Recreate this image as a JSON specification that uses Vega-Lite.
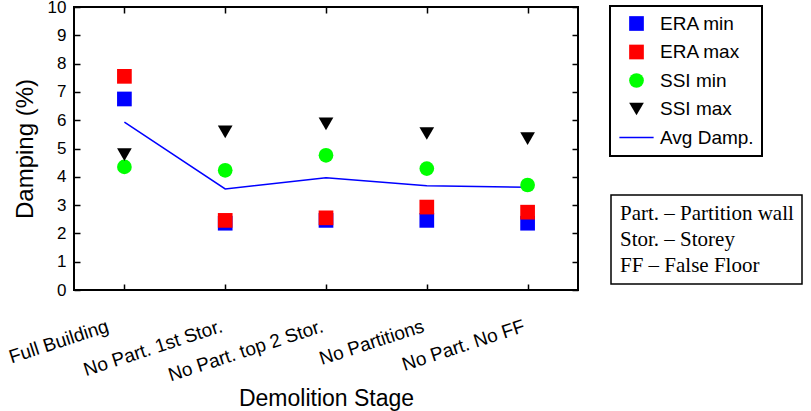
{
  "$schema": "https://vega.github.io/schema/vega-lite/v6.json",
  "autosize": "none",
  "width": 504,
  "height": 283,
  "padding": {"left": 74, "top": 7, "right": 233, "bottom": 121},
  "background": "white",
  "config": {
    "view": {"stroke": "black", "strokeWidth": 2},
    "axis": {"grid": false, "domain": false, "tickColor": "black", "tickWidth": 1.5, "tickSize": 6, "offset": -6, "labelColor": "black", "titleColor": "black", "labelFont": "Liberation Sans", "titleFont": "Liberation Sans", "titleFontWeight": "normal"}
  },
  "data": {
    "values": [
      {"stage": "Full Building", "series": "ERA min", "value": 6.75},
      {"stage": "Full Building", "series": "ERA max", "value": 7.55},
      {"stage": "Full Building", "series": "SSI min", "value": 4.35},
      {"stage": "Full Building", "series": "SSI max", "value": 4.78},
      {"stage": "Full Building", "series": "Avg Damp.", "value": 5.93},
      {"stage": "No Part. 1st Stor.", "series": "ERA min", "value": 2.36},
      {"stage": "No Part. 1st Stor.", "series": "ERA max", "value": 2.46},
      {"stage": "No Part. 1st Stor.", "series": "SSI min", "value": 4.23},
      {"stage": "No Part. 1st Stor.", "series": "SSI max", "value": 5.59},
      {"stage": "No Part. 1st Stor.", "series": "Avg Damp.", "value": 3.57},
      {"stage": "No Part. top 2 Stor.", "series": "ERA min", "value": 2.46},
      {"stage": "No Part. top 2 Stor.", "series": "ERA max", "value": 2.55},
      {"stage": "No Part. top 2 Stor.", "series": "SSI min", "value": 4.76},
      {"stage": "No Part. top 2 Stor.", "series": "SSI max", "value": 5.87},
      {"stage": "No Part. top 2 Stor.", "series": "Avg Damp.", "value": 3.97},
      {"stage": "No Partitions", "series": "ERA min", "value": 2.46},
      {"stage": "No Partitions", "series": "ERA max", "value": 2.93},
      {"stage": "No Partitions", "series": "SSI min", "value": 4.29},
      {"stage": "No Partitions", "series": "SSI max", "value": 5.53},
      {"stage": "No Partitions", "series": "Avg Damp.", "value": 3.68},
      {"stage": "No Part. No FF", "series": "ERA min", "value": 2.36},
      {"stage": "No Part. No FF", "series": "ERA max", "value": 2.75},
      {"stage": "No Part. No FF", "series": "SSI min", "value": 3.71},
      {"stage": "No Part. No FF", "series": "SSI max", "value": 5.35},
      {"stage": "No Part. No FF", "series": "Avg Damp.", "value": 3.63}
    ]
  },
  "resolve": {"axis": {"x": "independent", "y": "independent"}},
  "layer": [
    {
      "transform": [{"filter": "datum.series === 'Avg Damp.'"}],
      "mark": {"type": "line", "color": "#0000ff", "strokeWidth": 1.5},
      "encoding": {
        "x": {"field": "stage", "type": "ordinal", "sort": null,
              "scale": {"type": "point", "padding": 0.5},
              "axis": {"orient": "bottom", "title": "Demolition Stage", "titleFontSize": 23, "titlePadding": 3,
                       "labelFontSize": 19, "labelAngle": -18, "labelAlign": "right", "labelBaseline": "alphabetic",
                       "labelOffset": {"condition": {"test": "datum.value === 'Full Building'", "value": -15}, "value": -2},
                       "labelPadding": 41}},
        "y": {"field": "value", "type": "quantitative",
              "scale": {"domain": [0, 10], "nice": false, "zero": true},
              "axis": {"orient": "left", "title": "Damping (%)", "titleFontSize": 24, "titlePadding": 10,
                       "values": [0,1,2,3,4,5,6,7,8,9,10], "labelFontSize": 17, "labelPadding": 8}}
      }
    },
    {
      "transform": [{"filter": "datum.series !== 'Avg Damp.'"}],
      "mark": {"type": "point", "filled": true, "opacity": 1},
      "encoding": {
        "x": {"field": "stage", "type": "ordinal", "sort": null,
              "scale": {"type": "point", "padding": 0.5},
              "axis": {"orient": "top", "title": null, "labels": false}},
        "y": {"field": "value", "type": "quantitative",
              "scale": {"domain": [0, 10], "nice": false, "zero": true},
              "axis": {"orient": "right", "title": null, "labels": false, "values": [0,1,2,3,4,5,6,7,8,9,10]}},
        "color": {"field": "series", "type": "nominal",
                  "scale": {"domain": ["ERA min", "ERA max", "SSI min", "SSI max", "Avg Damp."],
                            "range": ["#0000ff", "#ff0000", "#00ff00", "#000000", "#0000ff"]},
                  "legend": {"title": null, "orient": "none", "legendX": 536, "legendY": -1,
                             "fillColor": "white", "strokeColor": "black", "padding": 8,
                             "labelFont": "Liberation Sans", "labelFontSize": 19, "labelColor": "black",
                             "rowPadding": 8.5, "symbolOffset": 9, "labelOffset": 14, "symbolOpacity": 1,
                             "encode": {"legend": {"update": {"strokeWidth": {"value": 2}}}}}},
        "shape": {"field": "series", "type": "nominal",
                  "scale": {"domain": ["ERA min", "ERA max", "SSI min", "SSI max", "Avg Damp."],
                            "range": ["square", "square", "circle", "triangle-down", "M-2.33,-0.1H2.33V0.1H-2.33Z"]}},
        "size": {"field": "series", "type": "nominal",
                 "scale": {"domain": ["ERA min", "ERA max", "SSI min", "SSI max", "Avg Damp."],
                           "range": [216, 216, 205, 289, 225]}}
      }
    },
    {
      "data": {"values": [
        {"note": "Part. – Partition wall"},
        {"note": "Stor. – Storey"},
        {"note": "FF – False Floor"}
      ]},
      "mark": {"type": "point", "opacity": 0, "filled": true},
      "encoding": {
        "fill": {"field": "note", "type": "nominal",
                 "scale": {"domain": ["Part. – Partition wall", "Stor. – Storey", "FF – False Floor"], "range": ["white", "white", "white"]},
                 "legend": {"title": null, "orient": "none", "legendX": 537, "legendY": 188,
                            "fillColor": "white", "strokeColor": "black", "padding": 8,
                            "labelFont": "Liberation Serif", "labelFontSize": 21, "labelColor": "black", "labelLimit": 400,
                            "symbolSize": 0, "symbolOpacity": 0, "symbolStrokeWidth": 0, "labelOffset": -20, "symbolOffset": 0,
                            "rowPadding": 4,
                            "encode": {"legend": {"update": {"strokeWidth": {"value": 1.5}}}}}}
      }
    }
  ]
}
